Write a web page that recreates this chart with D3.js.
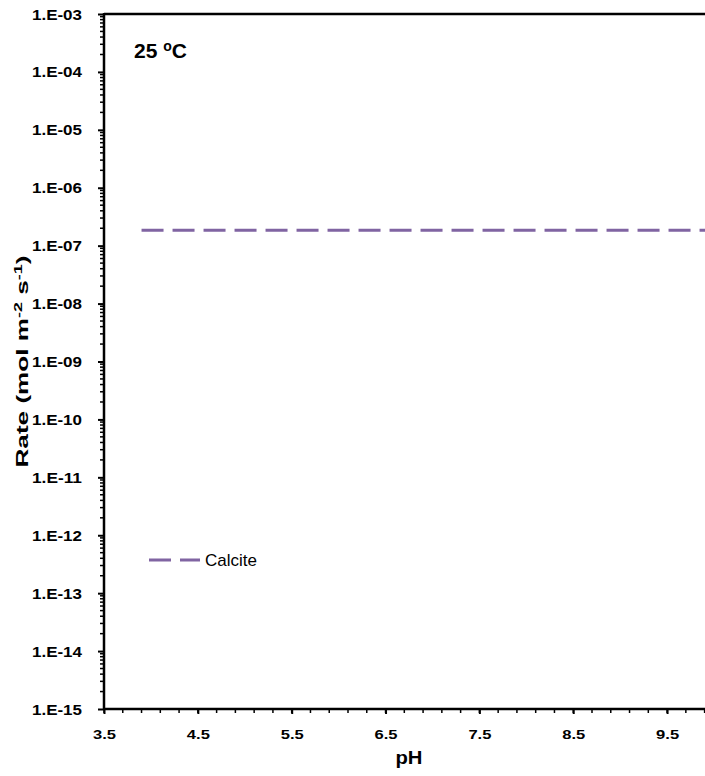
<!DOCTYPE html>
<html>
<head>
<meta charset="utf-8">
<script src="https://cdn.jsdelivr.net/npm/d3@7"></script>
<style>
  body { margin: 0; background: #fff; }
  svg { display: block; font-family: "Liberation Sans", Arial, sans-serif; }
</style>
</head>
<body>
<div id="chart"></div>
<script>
// Chart data
const seriesName = 'Calcite';
const calcitePH = [3.9, 10.0];
const calciteRate = [1.85e-7, 1.85e-7];
const xTickValues = [3.5, 4.5, 5.5, 6.5, 7.5, 8.5, 9.5];
const yTickExponents = [-3, -4, -5, -6, -7, -8, -9, -10, -11, -12, -13, -14, -15];

// Dimensions
const width = 705;
const height = 776;
const margin = { top: 14, left: 104, bottom: 67 };
const plotRight = 714; // axis runs past the picture edge

const svg = d3.select('#chart')
  .append('svg')
  .attr('width', width)
  .attr('height', height);

// Scales
const xScale = d3.scaleLinear()
  .domain([3.5, 10])
  .range([margin.left, plotRight]);

const yScale = d3.scaleLog()
  .domain([1e-15, 1e-3])
  .range([height - margin.bottom, margin.top]);

const y0 = yScale.range()[0];
const y1 = yScale.range()[1];

// Minor tick positions
const xMinor = d3.range(0, 33).map(i => 3.5 + i * 0.2).filter(v => v <= 10.001);
const yMinor = [];
yTickExponents.forEach(e => {
  if (e === -3) return;
  for (let m = 2; m <= 9; m++) yMinor.push(m * Math.pow(10, e));
});

// Minor ticks on y axis
svg.append('g')
  .selectAll('line')
  .data(yMinor)
  .enter()
  .append('line')
  .attr('x1', margin.left - 4)
  .attr('x2', margin.left)
  .attr('y1', d => yScale(d))
  .attr('y2', d => yScale(d))
  .attr('stroke', '#000')
  .attr('stroke-width', 1.5);

// Major y ticks + labels
const yAxis = d3.axisLeft(yScale)
  .tickValues(yTickExponents.map(e => Math.pow(10, e)))
  .tickSize(6)
  .tickPadding(16)
  .tickFormat(d => '1.E-' + String(Math.round(-Math.log10(d))).padStart(2, '0'));

const gy = svg.append('g')
  .attr('transform', `translate(${margin.left},0)`)
  .call(yAxis);
gy.select('.domain').remove();
gy.selectAll('line').attr('stroke-width', 2);
gy.selectAll('text')
  .attr('font-size', 14)
  .attr('font-weight', 'bold')
  .attr('font-family', '"Liberation Sans", Arial, sans-serif')
  .attr('fill', '#000')
  .attr('dy', '0.36em')
  .attr('textLength', 50)
  .attr('lengthAdjust', 'spacingAndGlyphs');

// Minor x ticks
svg.append('g')
  .selectAll('line')
  .data(xMinor)
  .enter()
  .append('line')
  .attr('x1', d => xScale(d))
  .attr('x2', d => xScale(d))
  .attr('y1', y0)
  .attr('y2', y0 + 4)
  .attr('stroke', '#000')
  .attr('stroke-width', 1.5);

// Major x ticks + labels
const xAxis = d3.axisBottom(xScale)
  .tickValues(xTickValues)
  .tickSize(5)
  .tickPadding(16)
  .tickFormat(d3.format('.1f'));

const gx = svg.append('g')
  .attr('transform', `translate(0,${y0})`)
  .call(xAxis);
gx.select('.domain').remove();
gx.selectAll('line').attr('stroke-width', 2);
gx.selectAll('text')
  .attr('font-size', 13)
  .attr('font-weight', 'bold')
  .attr('font-family', '"Liberation Sans", Arial, sans-serif')
  .attr('fill', '#000')
  .attr('textLength', 23)
  .attr('lengthAdjust', 'spacingAndGlyphs');

// Frame lines (left, bottom, top)
svg.append('line')
  .attr('x1', margin.left).attr('x2', margin.left)
  .attr('y1', y1 - 1).attr('y2', y0 + 1)
  .attr('stroke', '#000').attr('stroke-width', 2.5);
svg.append('line')
  .attr('x1', margin.left).attr('x2', plotRight)
  .attr('y1', y0).attr('y2', y0)
  .attr('stroke', '#000').attr('stroke-width', 2.5);
svg.append('line')
  .attr('x1', margin.left).attr('x2', plotRight)
  .attr('y1', y1).attr('y2', y1)
  .attr('stroke', '#000').attr('stroke-width', 2.5);

// Calcite series
const lineColor = '#8064A2';
const line = d3.line()
  .x(d => xScale(d[0]))
  .y(d => yScale(d[1]));

svg.append('path')
  .datum(calcitePH.map((p, i) => [p, calciteRate[i]]))
  .attr('d', line)
  .attr('fill', 'none')
  .attr('stroke', lineColor)
  .attr('stroke-width', 3)
  .attr('stroke-dasharray', '22,9');

// Legend
const legendY = 560;
svg.append('line')
  .attr('x1', 149).attr('x2', 200)
  .attr('y1', legendY).attr('y2', legendY)
  .attr('stroke', lineColor)
  .attr('stroke-width', 3)
  .attr('stroke-dasharray', '22,9');
svg.append('text')
  .attr('x', 205)
  .attr('y', legendY + 6)
  .attr('font-size', 17)
  .attr('fill', '#000')
  .text(seriesName);

// Temperature label
const tLabel = svg.append('text')
  .attr('x', 134)
  .attr('y', 58)
  .attr('font-size', 21)
  .attr('font-weight', 'bold')
  .attr('fill', '#000');
tLabel.append('tspan').text('25 ');
tLabel.append('tspan').attr('font-size', 14).attr('dy', -7).text('o');
tLabel.append('tspan').attr('dy', 7).text('C');

// Axis titles
svg.append('text')
  .attr('x', 409)
  .attr('y', 764)
  .attr('text-anchor', 'middle')
  .attr('font-size', 18)
  .attr('font-weight', 'bold')
  .attr('textLength', 27)
  .attr('lengthAdjust', 'spacingAndGlyphs')
  .text('pH');

const yTitle = svg.append('text')
  .attr('transform', `translate(28,${(y0 + y1) / 2}) rotate(-90)`)
  .attr('text-anchor', 'middle')
  .attr('font-size', 16)
  .attr('font-weight', 'bold')
  .attr('textLength', 212)
  .attr('lengthAdjust', 'spacingAndGlyphs');
yTitle.append('tspan').text('Rate (mol m');
yTitle.append('tspan').attr('font-size', 11).attr('dy', -6).text('-2');
yTitle.append('tspan').attr('dy', 6).text(' s');
yTitle.append('tspan').attr('font-size', 11).attr('dy', -6).text('-1');
yTitle.append('tspan').attr('dy', 6).text(')');
</script>
</body>
</html>
